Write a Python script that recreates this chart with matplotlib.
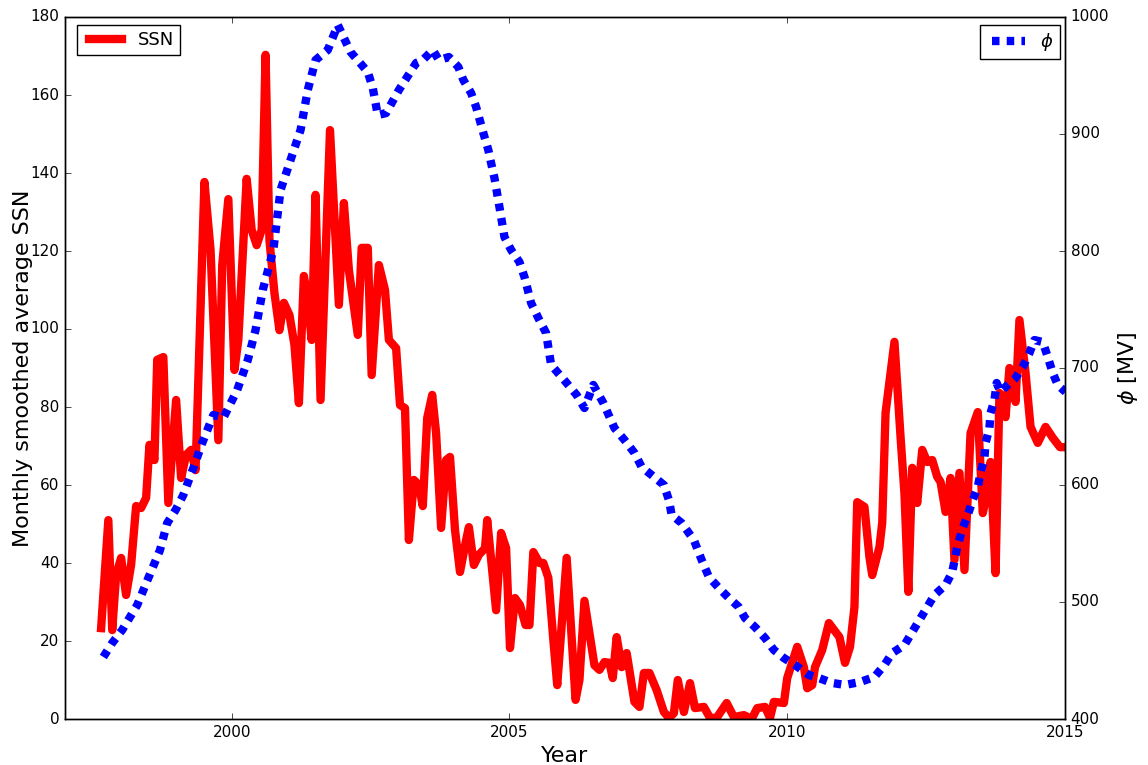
import matplotlib
matplotlib.use('Agg')
import matplotlib.pyplot as plt
import numpy as np

plt.style.use('classic')
plt.rcParams['mathtext.fontset'] = 'dejavusans'

# Monthly smoothed sunspot number
ssn_year = [1997.65, 1997.78, 1997.85, 1997.92, 1998.01, 1998.10, 1998.19, 1998.28, 1998.37, 1998.46,
            1998.52, 1998.61, 1998.66, 1998.77, 1998.86, 1999.00, 1999.09, 1999.18, 1999.27, 1999.35,
            1999.51, 1999.62, 1999.76, 1999.83, 1999.94, 2000.05, 2000.12, 2000.27, 2000.36, 2000.45,
            2000.54, 2000.61, 2000.68, 2000.77, 2000.86, 2000.94, 2001.04, 2001.13, 2001.21, 2001.30,
            2001.37, 2001.44, 2001.51, 2001.60, 2001.77, 2001.93, 2002.02, 2002.11, 2002.27, 2002.34,
            2002.45, 2002.52, 2002.65, 2002.76, 2002.83, 2002.96, 2003.03, 2003.12, 2003.19, 2003.28,
            2003.37, 2003.44, 2003.52, 2003.61, 2003.68, 2003.77, 2003.86, 2003.93, 2004.02, 2004.11,
            2004.22, 2004.27, 2004.36, 2004.45, 2004.56, 2004.60, 2004.76, 2004.85, 2004.94, 2005.01,
            2005.10, 2005.19, 2005.29, 2005.36, 2005.43, 2005.54, 2005.61, 2005.70, 2005.79, 2005.86,
            2006.03, 2006.19, 2006.26, 2006.35, 2006.53, 2006.62, 2006.71, 2006.80, 2006.86, 2006.93,
            2007.02, 2007.11, 2007.25, 2007.34, 2007.42, 2007.52, 2007.65, 2007.78, 2007.87, 2007.96,
            2008.03, 2008.14, 2008.25, 2008.34, 2008.50, 2008.61, 2008.73, 2008.91, 2009.04, 2009.22,
            2009.36, 2009.46, 2009.60, 2009.69, 2009.76, 2009.94, 2010.00, 2010.18, 2010.30, 2010.36,
            2010.45, 2010.50, 2010.63, 2010.75, 2010.94, 2011.04, 2011.13, 2011.21, 2011.26, 2011.39,
            2011.48, 2011.53, 2011.66, 2011.71, 2011.77, 2011.93, 2012.04, 2012.11, 2012.18, 2012.25,
            2012.34, 2012.43, 2012.52, 2012.61, 2012.70, 2012.76, 2012.85, 2012.94, 2013.01, 2013.10,
            2013.19, 2013.30, 2013.43, 2013.52, 2013.57, 2013.66, 2013.75, 2013.82, 2013.93, 2014.00,
            2014.11, 2014.18, 2014.29, 2014.38, 2014.51, 2014.65, 2014.78, 2014.91, 2015.05]
ssn = [23.3, 51.0, 22.8, 36.9, 41.3, 31.8, 39.5, 54.6, 54.1, 56.7,
       70.3, 66.4, 92.1, 92.8, 55.4, 81.8, 61.8, 67.7, 69.0, 63.8,
       137.7, 120.3, 71.5, 116.4, 133.3, 89.5, 97.2, 138.5, 125.4, 121.5,
       125.4, 170.3, 122.8, 109.2, 99.7, 106.7, 103.6, 95.9, 81.0, 113.6,
       107.4, 97.2, 134.4, 81.8, 151.0, 106.2, 132.3, 115.1, 98.5, 120.8,
       120.8, 88.2, 116.4, 110.0, 97.2, 95.1, 80.5, 79.7, 45.9, 61.3,
       60.0, 54.6, 77.2, 83.1, 73.3, 49.0, 66.4, 67.2, 48.5, 37.7,
       45.9, 49.2, 39.5, 42.1, 43.8, 51.0, 27.9, 47.7, 43.8, 18.2,
       31.0, 29.2, 24.1, 24.1, 42.8, 40.0, 40.0, 36.2, 20.3, 8.7,
       41.3, 4.9, 10.0, 30.3, 13.8, 12.6, 14.6, 14.4, 10.5, 21.0,
       13.3, 16.9, 4.4, 3.1, 11.8, 11.8, 7.4, 1.8, 0.3, 1.5,
       10.0, 1.8, 9.2, 2.8, 3.1, 0.3, 0.3, 4.1, 0.5, 1.0,
       0.0, 2.8, 3.1, 0.3, 4.4, 4.1, 10.5, 18.5, 13.3, 7.9,
       8.7, 13.3, 17.7, 24.6, 21.0, 14.4, 18.5, 28.7, 55.6, 54.4,
       41.5, 36.9, 44.1, 50.3, 78.5, 96.7, 72.3, 57.9, 32.6, 64.4,
       55.4, 69.0, 65.9, 66.4, 62.1, 60.8, 53.1, 61.8, 40.8, 63.1,
       38.2, 73.3, 78.7, 52.8, 56.2, 65.9, 37.4, 83.6, 77.4, 90.0,
       81.3, 102.3, 88.7, 74.9, 70.8, 74.9, 72.1, 69.7, 69.7]

# Modulation potential phi [MV]
phi_year = [1997.69, 1997.85, 1998.03, 1998.30, 1998.50, 1998.71, 1998.84, 1998.99, 1999.13, 1999.31,
            1999.47, 1999.67, 1999.85, 2000.10, 2000.29, 2000.43, 2000.56, 2000.75, 2000.88, 2001.06,
            2001.24, 2001.37, 2001.51, 2001.73, 2001.91, 2002.14, 2002.45, 2002.54, 2002.63, 2002.78,
            2003.01, 2003.32, 2003.44, 2003.62, 2003.73, 2003.91, 2004.08, 2004.17, 2004.31, 2004.40,
            2004.53, 2004.62, 2004.67, 2004.73, 2004.82, 2004.91, 2005.03, 2005.18, 2005.27, 2005.39,
            2005.52, 2005.66, 2005.75, 2006.03, 2006.21, 2006.35, 2006.51, 2006.69, 2006.89, 2007.07,
            2007.25, 2007.38, 2007.56, 2007.78, 2007.87, 2007.92, 2008.10, 2008.32, 2008.46, 2008.59,
            2008.77, 2008.95, 2009.13, 2009.24, 2009.42, 2009.60, 2009.76, 2009.94, 2010.14, 2010.39,
            2010.57, 2010.81, 2011.04, 2011.31, 2011.57, 2011.75, 2011.89, 2012.11, 2012.25, 2012.38,
            2012.52, 2012.65, 2012.85, 2012.97, 2013.06, 2013.16, 2013.25, 2013.34, 2013.43, 2013.48,
            2013.55, 2013.57, 2013.64, 2013.66, 2013.73, 2013.77, 2013.84, 2013.93, 2014.11, 2014.24,
            2014.36, 2014.45, 2014.60, 2014.69, 2014.78, 2014.87, 2015.01]
phi = [453.0, 465.0, 476.1, 497.4, 520.5, 544.4, 567.5, 578.6, 591.5, 614.5,
       635.9, 659.8, 657.3, 681.2, 706.8, 732.5, 766.7, 800.9, 852.1, 877.8,
       903.4, 937.6, 963.2, 971.8, 993.2, 970.1, 953.0, 939.3, 916.2, 917.9,
       937.6, 960.7, 963.2, 971.8, 963.2, 965.8, 957.3, 946.2, 935.0, 923.1,
       900.9, 886.3, 875.2, 862.4, 837.6, 812.0, 800.9, 790.6, 777.8, 755.6,
       742.7, 729.9, 702.6, 687.2, 676.9, 665.8, 685.5, 670.1, 648.7, 638.5,
       627.4, 615.4, 608.5, 600.0, 587.2, 574.4, 567.5, 553.0, 535.9, 521.4,
       512.0, 503.4, 495.7, 486.3, 478.6, 469.2, 459.0, 452.1, 446.2, 437.6,
       435.0, 430.8, 429.1, 431.6, 435.9, 446.2, 456.4, 463.2, 474.4, 484.6,
       495.7, 506.0, 514.5, 525.6, 547.0, 563.2, 574.4, 587.2, 598.3, 610.3,
       623.1, 635.9, 648.7, 661.5, 672.6, 687.2, 679.5, 683.8, 691.5, 700.9,
       712.8, 723.9, 722.2, 709.4, 695.7, 685.5, 679.5]

fig = plt.figure(figsize=(11.48, 7.65), dpi=100, facecolor='white')
ax = fig.add_axes([65/1148, 46/765, 1000/1148, 702/765])
ax.set_facecolor('white')

ax.plot(ssn_year, ssn, color='red', lw=6, label='SSN')
ax.set_xlim(1997, 2015)
ax.set_ylim(0, 180)
ax.set_xticks([2000, 2005, 2010, 2015])
ax.ticklabel_format(axis='x', useOffset=False, style='plain')
ax.set_yticks(np.arange(0, 181, 20))
ax.set_xlabel('Year', fontsize=16)
ax.set_ylabel('Monthly smoothed average SSN', fontsize=16, labelpad=-2)
ax.tick_params(labelsize=11)

leg_kw = dict(fontsize=13, handlelength=2.45, handletextpad=0.55,
              borderpad=0.35, borderaxespad=0, fancybox=False)
ax.legend(loc='upper left', bbox_to_anchor=(0.012, 0.989), **leg_kw)

ax2 = ax.twinx()
ax2.plot(phi_year, phi, color='blue', lw=6, linestyle=(0, (5.4, 5.2)),
         dash_capstyle='butt', label=r'$\phi$')
ax2.set_xlim(1997, 2015)
ax2.set_ylim(400, 1000)
ax2.set_yticks(np.arange(400, 1001, 100))
ax2.set_ylabel(r'$\phi$ [MV]', fontsize=16)
ax2.tick_params(labelsize=11)
ax2.legend(loc='upper right', bbox_to_anchor=(0.995, 0.989), **leg_kw)

fig.savefig('out.png', dpi=100, facecolor='white')
